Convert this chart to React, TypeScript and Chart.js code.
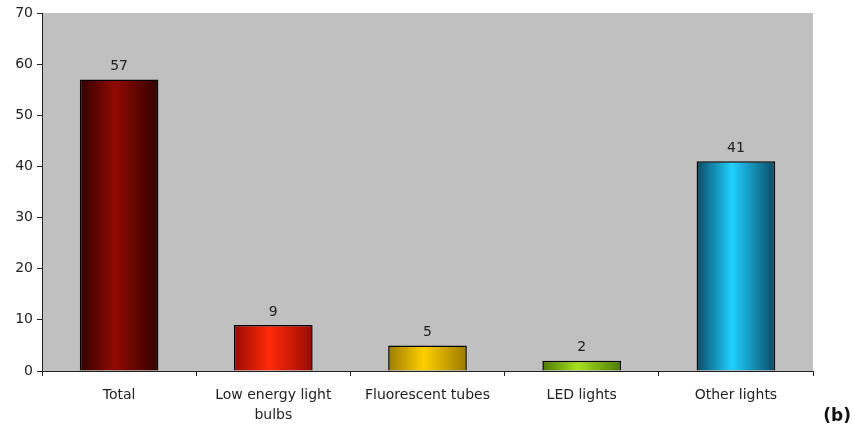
import React, { useEffect, useRef } from "react";
import { Chart, registerables } from "chart.js";

Chart.register(...registerables);

const categories: (string | string[])[] = [
  "Total",
  ["Low energy light", "bulbs"],
  "Fluorescent tubes",
  "LED lights",
  "Other lights",
];
const values = [57, 9, 5, 2, 41];
const edgeColors = ["#300000", "#9a0a00", "#9a7a00", "#4a7a00", "#0a4a66"];
const centerColors = ["#920a00", "#ff2a0a", "#ffd000", "#a8e020", "#20d0ff"];
const yTicks = [0, 10, 20, 30, 40, 50, 60, 70];
const panelLabel = "(b)";

const FONT = "'DejaVu Sans', sans-serif";

export default function App() {
  const ref = useRef<HTMLCanvasElement>(null);
  useEffect(() => {
    document.body.style.margin = "0";
    const canvas = ref.current!;
    const bgPlugin = {
      id: "bg",
      beforeDraw(chart: any) {
        const { ctx, chartArea } = chart;
        ctx.save();
        ctx.fillStyle = "#c0c0c0";
        ctx.fillRect(chartArea.left, chartArea.top, chartArea.right - chartArea.left, chartArea.bottom - chartArea.top);
        ctx.restore();
      },
      afterDatasetsDraw(chart: any) {
        const { ctx } = chart;
        const meta = chart.getDatasetMeta(0);
        ctx.save();
        ctx.font = `14px ${FONT}`;
        ctx.fillStyle = "#222";
        ctx.textAlign = "center";
        ctx.textBaseline = "bottom";
        meta.data.forEach((bar: any, i: number) => {
          ctx.fillText(String(values[i]), bar.x, bar.y - 6);
        });
        ctx.font = `bold 17px ${FONT}`;
        ctx.textAlign = "right";
        ctx.textBaseline = "middle";
        ctx.fillStyle = "#111";
        ctx.fillText(panelLabel, 851, 417);
        ctx.restore();
      },
    };
    const chart = new Chart(canvas, {
      type: "bar",
      data: {
        labels: categories,
        datasets: [
          {
            data: values,
            backgroundColor: (c: any) => {
              const ch = c.chart;
              const xs = ch.scales?.x;
              const i = c.dataIndex ?? 0;
              if (!ch.chartArea || !xs) return centerColors[i];
              const cx = xs.getPixelForValue(i);
              const w = (xs.width / categories.length) * 0.51;
              const g = ch.ctx.createLinearGradient(cx - w / 2, 0, cx + w / 2, 0);
              g.addColorStop(0, edgeColors[i]);
              g.addColorStop(0.45, centerColors[i]);
              g.addColorStop(1, edgeColors[i]);
              return g;
            },
            borderColor: "#000",
            borderWidth: 1.5,
            barPercentage: 0.51,
            categoryPercentage: 1,
          },
        ],
      },
      options: {
        animation: false,
        responsive: false,
        maintainAspectRatio: false,
        layout: { padding: { top: 13, right: 40, left: 0, bottom: 0 } },
        plugins: { legend: { display: false }, tooltip: { enabled: false } },
        scales: {
          x: {
            grid: { drawOnChartArea: false, drawTicks: true, tickLength: 5, color: "#222", offset: true },
            border: { display: true, color: "#222", width: 1 },
            ticks: { color: "#222", font: { family: FONT, size: 14, lineHeight: 1.45 }, padding: 9, maxRotation: 0, autoSkip: false },
            afterFit: (s: any) => { s.height = 61; },
          },
          y: {
            min: 0,
            max: 70,
            afterBuildTicks: (s: any) => { s.ticks = yTicks.map((v) => ({ value: v })); },
            grid: { drawOnChartArea: false, drawTicks: true, tickLength: 5, color: "#222" },
            border: { display: true, color: "#222", width: 1 },
            ticks: { color: "#222", font: { family: FONT, size: 14 }, padding: 4 },
            afterFit: (s: any) => { s.width = 42; },
          },
        },
      },
      plugins: [bgPlugin],
    } as any);
    return () => chart.destroy();
  }, []);
  return (
    <div style={{ position: "absolute", left: 0, top: 0, width: 853, height: 432, background: "#fff" }}>
      <canvas ref={ref} width={853} height={432} style={{ width: 853, height: 432 }} />
    </div>
  );
}
